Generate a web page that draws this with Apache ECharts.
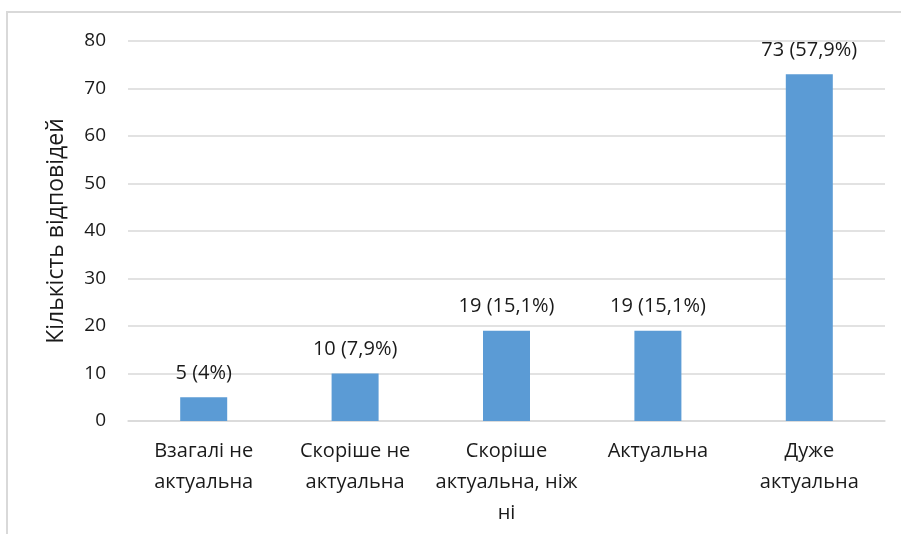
<!DOCTYPE html>
<html>
<head>
<meta charset="utf-8">
<script src="https://cdn.jsdelivr.net/npm/echarts@6/dist/echarts.min.js"></script>
<style>
  html, body { margin: 0; padding: 0; background: #fff; }
  #chart { width: 901px; height: 534px; }
</style>
</head>
<body>
<div id="chart"></div>
<script>
    // categories and values
    var categories = ['Взагалі не\nактуальна', 'Скоріше не\nактуальна', 'Скоріше\nактуальна, ніж\nні', 'Актуальна', 'Дуже\nактуальна'];
    var counts = [5, 10, 19, 19, 73];
    var percents = ['4%', '7,9%', '15,1%', '15,1%', '57,9%'];
    var yName = 'Кількість відповідей';

    var myChart = echarts.init(document.getElementById('chart'));
    var font = '"Open Sans", "Noto Sans", sans-serif';

    myChart.setOption({
        animation: false,
        textStyle: { fontFamily: font },
        graphic: [{
            type: 'rect',
            shape: { x: 7, y: 12, width: 920, height: 560 },
            style: { fill: 'none', stroke: '#d9d9d9', lineWidth: 2 },
            silent: true
        }],
        grid: { left: 128, right: 16, top: 41, bottom: 113 },
        xAxis: {
            type: 'category',
            data: categories,
            axisTick: { show: false },
            axisLine: { lineStyle: { color: '#d9d9d9', width: 1.5 } },
            axisLabel: {
                color: '#1a1a1a',
                fontSize: 20,
                lineHeight: 31,
                margin: 15,
                interval: 0,
                fontFamily: font
            }
        },
        yAxis: {
            type: 'value',
            min: 0,
            max: 80,
            interval: 10,
            name: yName,
            nameLocation: 'middle',
            nameGap: 60,
            nameTextStyle: { color: '#1a1a1a', fontSize: 23, fontFamily: font },
            axisLine: { show: false },
            axisTick: { show: false },
            splitLine: { lineStyle: { color: '#d9d9d9', width: 1.5 } },
            axisLabel: { color: '#1a1a1a', fontSize: 19, margin: 22, fontFamily: font }
        },
        series: [{
            type: 'bar',
            data: counts,
            barWidth: 47,
            itemStyle: { color: '#5b9bd5' },
            label: {
                show: true,
                position: 'top',
                distance: 14,
                color: '#1a1a1a',
                fontSize: 20,
                fontFamily: font,
                formatter: function (p) {
                    return p.value + ' (' + percents[p.dataIndex] + ')';
                }
            }
        }]
    });
</script>
</body>
</html>
